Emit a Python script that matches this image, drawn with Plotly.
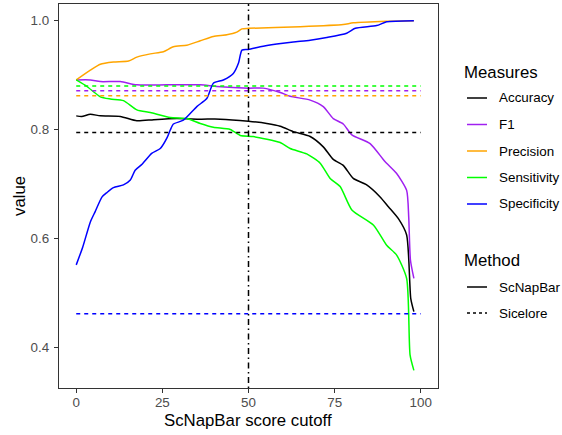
import plotly.graph_objects as go

# ---------------- data ----------------
acc_x = [0, 1.6, 4.1, 7, 12.8, 17.6, 22.5, 29.2, 36, 41.8, 50, 55.3, 59.2, 63, 67.9, 71.7, 74.6, 77.5, 80.4, 84.3, 88.2, 90.6, 93.5, 95.9, 97.1, 98]
acc_y = [0.825, 0.824, 0.828, 0.825, 0.824, 0.816, 0.818, 0.820, 0.819, 0.819, 0.815, 0.811, 0.806, 0.796, 0.787, 0.768, 0.745, 0.734, 0.710, 0.698, 0.676, 0.658, 0.636, 0.606, 0.489, 0.465]

f1_x = [0, 4.1, 7, 12.8, 17.6, 26.3, 36, 40.8, 50, 54.3, 59.2, 62.1, 67.9, 71.7, 74.6, 77.5, 80, 85.3, 89.6, 93, 95.9, 96.5, 97, 98]
f1_y = [0.891, 0.891, 0.888, 0.888, 0.882, 0.882, 0.882, 0.879, 0.876, 0.876, 0.868, 0.861, 0.854, 0.842, 0.820, 0.810, 0.790, 0.774, 0.741, 0.719, 0.688, 0.639, 0.560, 0.526]

prec_x = [0, 4.1, 7, 10.8, 15.2, 17.6, 21.5, 25.3, 28.2, 32.1, 36, 39.8, 43.7, 46.6, 48.1, 50, 65, 77.5, 80.4, 90.1, 98]
prec_y = [0.891, 0.909, 0.920, 0.924, 0.926, 0.933, 0.939, 0.943, 0.952, 0.955, 0.963, 0.971, 0.974, 0.979, 0.985, 0.986, 0.989, 0.993, 0.996, 0.999, 1.000]

sens_x = [0, 3.1, 7, 9.9, 13.7, 17.6, 21.5, 27.3, 32.1, 36, 39.8, 44.7, 47.6, 51.4, 59.2, 62.1, 66.9, 70.8, 73.7, 76.6, 80, 86.3, 90.1, 93, 95.9, 96.9, 98]
sens_y = [0.891, 0.879, 0.860, 0.856, 0.853, 0.836, 0.831, 0.822, 0.820, 0.811, 0.804, 0.800, 0.789, 0.787, 0.776, 0.765, 0.755, 0.738, 0.710, 0.695, 0.652, 0.624, 0.587, 0.569, 0.526, 0.385, 0.357]

spec_x = [0, 1.9, 4.1, 5.5, 7.5, 8.9, 10.8, 13.7, 15.7, 17.1, 19.1, 21.9, 24.4, 26.3, 27.3, 28.2, 31.1, 35, 37.9, 39.8, 42.7, 45.6, 47.1, 48.1, 50, 53.4, 58.2, 63, 67.9, 72.7, 78.5, 81, 87.2, 90.1, 98]
spec_y = [0.551, 0.584, 0.630, 0.649, 0.676, 0.684, 0.693, 0.698, 0.707, 0.725, 0.736, 0.756, 0.765, 0.784, 0.799, 0.810, 0.817, 0.842, 0.857, 0.885, 0.891, 0.903, 0.922, 0.946, 0.947, 0.952, 0.957, 0.961, 0.964, 0.969, 0.977, 0.986, 0.991, 0.998, 1.000]

measures = ["Accuracy", "F1", "Precision", "Sensitivity", "Specificity"]
colors = ["#000000", "#A020F0", "#FFA500", "#00FF00", "#0000FF"]
sicelore_values = [0.7945, 0.871, 0.862, 0.880, 0.461]
sicelore_x = [0, 100]
cutoff_used = 50

x_ticks = [0, 25, 50, 75, 100]
y_ticks = [0.4, 0.6, 0.8, 1.0]
y_tick_labels = ["0.4", "0.6", "0.8", "1.0"]
methods = ["ScNapBar", "Sicelore"]

series_x = [acc_x, f1_x, prec_x, sens_x, spec_x]
series_y = [acc_y, f1_y, prec_y, sens_y, spec_y]

FONT = "Liberation Sans, Arial, sans-serif"
W, H = 562, 435
L, R, T, B = 59, 438, 4, 388

fig = go.Figure()

for name, col, xs, ys in zip(measures, colors, series_x, series_y):
    fig.add_trace(go.Scatter(x=xs, y=ys, mode="lines", name=name,
                             line=dict(color=col, width=1.5, shape="spline", smoothing=0.6),
                             showlegend=False))

for name, col, v in zip(measures, colors, sicelore_values):
    fig.add_trace(go.Scatter(x=sicelore_x, y=[v, v], mode="lines", name=name + " (Sicelore)",
                             line=dict(color=col, width=1.5, dash="4px,4px"),
                             showlegend=False))

fig.add_shape(type="line", xref="x", yref="paper", x0=cutoff_used, x1=cutoff_used, y0=0, y1=1,
              line=dict(color="black", width=1.5, dash="1.5px,3.5px,6px,3.5px"))

# ---------------- manual legend ----------------
def px(xp):
    return (xp - L) / (R - L)

def py(yp):
    return (B - yp) / (B - T)

annotations = []
shapes = []
annotations.append(dict(text="Measures", x=px(462), y=py(72), xref="paper", yref="paper",
                        xanchor="left", yanchor="middle", showarrow=False,
                        font=dict(family=FONT, size=16.8, color="black")))
item_y = [98, 124.5, 151, 177.5, 204]
for name, col, yy in zip(measures, colors, item_y):
    shapes.append(dict(type="line", xref="paper", yref="paper", x0=px(467), x1=px(487),
                       y0=py(yy), y1=py(yy), line=dict(color=col, width=1.5)))
    annotations.append(dict(text=name, x=px(497), y=py(yy), xref="paper", yref="paper",
                            xanchor="left", yanchor="middle", showarrow=False,
                            font=dict(family=FONT, size=13.4, color="black")))
annotations.append(dict(text="Method", x=px(462), y=py(260), xref="paper", yref="paper",
                        xanchor="left", yanchor="middle", showarrow=False,
                        font=dict(family=FONT, size=16.8, color="black")))
method_y = [287, 313]
method_dash = ["solid", "3px,3px"]
for name, yy, d in zip(methods, method_y, method_dash):
    shapes.append(dict(type="line", xref="paper", yref="paper", x0=px(467), x1=px(487),
                       y0=py(yy), y1=py(yy), line=dict(color="black", width=1.5, dash=d)))
    annotations.append(dict(text=name, x=px(497), y=py(yy), xref="paper", yref="paper",
                            xanchor="left", yanchor="middle", showarrow=False,
                            font=dict(family=FONT, size=13.4, color="black")))

# axis titles as annotations
annotations.append(dict(text="ScNapBar score cutoff", x=px(248), y=py(420), xref="paper", yref="paper",
                        xanchor="center", yanchor="middle", showarrow=False,
                        font=dict(family=FONT, size=16.8, color="black")))
annotations.append(dict(text="value", x=px(19), y=py(196), xref="paper", yref="paper",
                        xanchor="center", yanchor="middle", showarrow=False, textangle=-90,
                        font=dict(family=FONT, size=16.8, color="black")))

for s in shapes:
    fig.add_shape(**s)

fig.update_layout(
    width=W, height=H,
    margin=dict(l=L, r=W - R, t=T, b=H - B),
    paper_bgcolor="white", plot_bgcolor="white",
    showlegend=False,
    annotations=annotations,
    font=dict(family=FONT),
)
fig.update_xaxes(range=[-5, 105], tickvals=x_ticks, ticks="outside", ticklen=4, tickwidth=1,
                 tickcolor="#333333", showgrid=False, zeroline=False,
                 showline=True, linecolor="#333333", linewidth=1.2, mirror=True,
                 ticklabelstandoff=-2,
                 tickfont=dict(family=FONT, size=13.4, color="#4D4D4D"))
fig.update_yaxes(range=[0.3246, 1.0307], tickvals=y_ticks, ticktext=y_tick_labels, ticks="outside",
                 ticklen=4, tickwidth=1, tickcolor="#333333", showgrid=False, zeroline=False,
                 showline=True, linecolor="#333333", linewidth=1.2, mirror=True,
                 ticklabelstandoff=2,
                 tickfont=dict(family=FONT, size=13.4, color="#4D4D4D"))

fig.write_html("out.html")
